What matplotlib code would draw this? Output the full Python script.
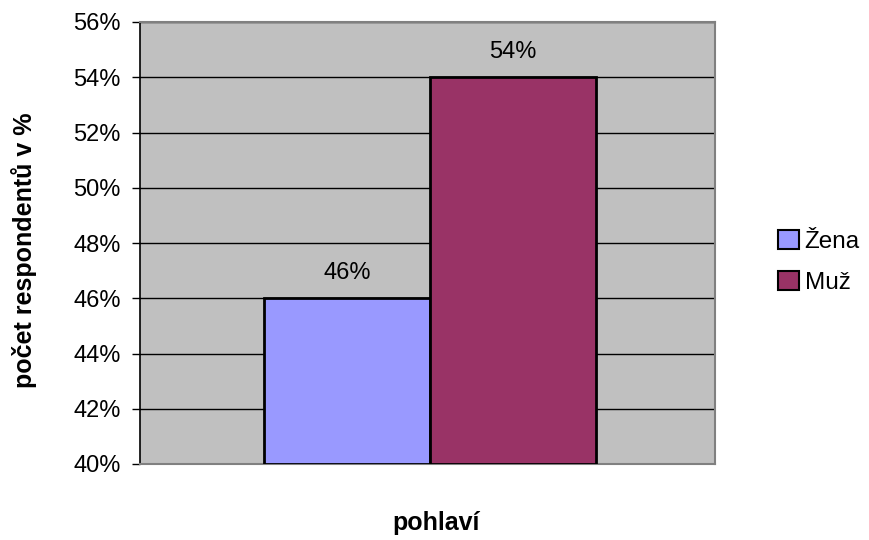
import matplotlib
matplotlib.use("Agg")
import matplotlib.pyplot as plt
from matplotlib.patches import Patch
from matplotlib.ticker import FuncFormatter

plt.rcParams['font.family'] = ['Liberation Sans', 'DejaVu Sans']

categories = ["Žena", "Muž"]
values = [46, 54]
colors = ["#9999FF", "#993366"]
yticks = [40, 42, 44, 46, 48, 50, 52, 54, 56]

W, H = 869, 540
fig = plt.figure(figsize=(W / 100, H / 100), dpi=100)
ax = fig.add_axes([140 / W, 1 - 464 / H, 575 / W, 442 / H])
ax.set_facecolor("#C0C0C0")

for i, (cat, v, c) in enumerate(zip(categories, values, colors)):
    ax.bar(i + 0.5, v - 40, bottom=40, width=1.0, color=c, edgecolor="black",
           linewidth=2, zorder=3)
    ax.text(i + 0.5, v + 0.9, f"{v}%", ha="center", va="center", fontsize=17, zorder=4)

ax.set_ylim(40, 56)
ax.set_xlim(-0.747, 2.717)
ax.set_yticks(yticks)
ax.yaxis.set_major_formatter(FuncFormatter(lambda y, _: f"{y:.0f}%"))
ax.tick_params(axis="y", labelsize=17, length=6, width=1, direction="out", pad=8)
ax.set_xticks([])
ax.grid(axis="y", color="black", linewidth=1, zorder=1)

for side in ["top", "right", "bottom"]:
    ax.spines[side].set_color("#808080")
    ax.spines[side].set_linewidth(1.5)
ax.spines["left"].set_color("black")
ax.spines["left"].set_linewidth(1.2)

fig.text(24 / W, 1 - 250 / H, "počet respondentů v %", rotation=90, ha="center",
         va="center", fontsize=18, fontweight="bold")
fig.text(436 / W, 1 - 523 / H, "pohlaví", ha="center", va="center",
         fontsize=18, fontweight="bold")

handles = [Patch(facecolor=c, edgecolor="black", linewidth=1.5) for c in colors]
fig.legend(handles, categories, loc="center left", bbox_to_anchor=(778 / W, 1 - 262 / H),
           frameon=False, fontsize=17.5, handlelength=0.85, handleheight=0.85,
           handletextpad=0.25, labelspacing=0.75, borderpad=0, borderaxespad=0)

fig.savefig("out.png", dpi=100)
